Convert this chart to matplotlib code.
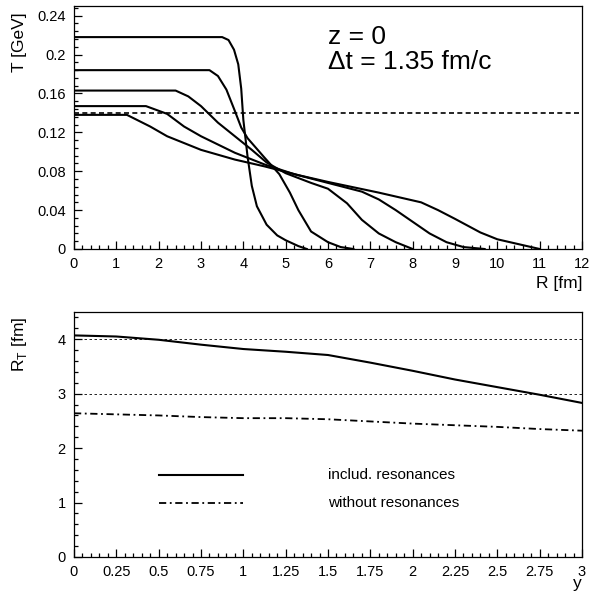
import matplotlib
matplotlib.use("Agg")
import matplotlib.pyplot as plt
from matplotlib.ticker import MultipleLocator, FixedLocator

plt.rcParams['font.family'] = ['Liberation Sans', 'DejaVu Sans']

# ---- top panel data: T(R) profiles ----
R_a = [0, 1, 2, 3, 3.5, 3.65, 3.78, 3.88, 3.95, 4.0, 4.1, 4.2, 4.32, 4.55, 4.8, 5.0, 5.3, 5.5]
T_a = [0.218, 0.218, 0.218, 0.218, 0.218, 0.215, 0.205, 0.190, 0.165, 0.133, 0.095, 0.065, 0.044, 0.025, 0.014, 0.009, 0.003, 0.0]

R_b = [0, 1, 2, 3, 3.2, 3.4, 3.6, 3.8, 3.95, 4.1, 4.5, 4.85, 5.1, 5.3, 5.6, 6.0, 6.3, 6.6]
T_b = [0.184, 0.184, 0.184, 0.184, 0.184, 0.178, 0.164, 0.142, 0.125, 0.114, 0.094, 0.077, 0.058, 0.040, 0.018, 0.007, 0.002, 0.0]

R_c = [0, 1, 2, 2.4, 2.7, 3.0, 3.4, 3.8, 4.2, 4.55, 5.0, 5.6, 6.0, 6.45, 6.8, 7.2, 7.6, 8.0]
T_c = [0.163, 0.163, 0.163, 0.163, 0.157, 0.147, 0.130, 0.116, 0.102, 0.089, 0.078, 0.068, 0.062, 0.047, 0.030, 0.016, 0.007, 0.0]

R_d = [0, 1, 1.7, 2.2, 2.6, 3.0, 3.8, 4.5, 5.2, 6.0, 6.8, 7.2, 7.6, 8.0, 8.4, 8.8, 9.2, 9.7]
T_d = [0.147, 0.147, 0.147, 0.139, 0.126, 0.116, 0.099, 0.087, 0.077, 0.068, 0.059, 0.051, 0.040, 0.028, 0.016, 0.007, 0.002, 0.0]

R_e = [0, 1, 1.25, 1.8, 2.2, 3.0, 3.8, 4.5, 5.3, 6.0, 7.2, 8.2, 8.6, 9.0, 9.6, 10.0, 10.6, 11.0]
T_e = [0.138, 0.138, 0.138, 0.126, 0.116, 0.102, 0.092, 0.085, 0.076, 0.069, 0.058, 0.048, 0.040, 0.031, 0.017, 0.010, 0.004, 0.0]

T_freeze = 0.14

# ---- bottom panel data: R_T(y) ----
y_vals = [0, 0.25, 0.5, 0.75, 1.0, 1.25, 1.5, 1.75, 2.0, 2.25, 2.5, 2.75, 3.0]
RT_incl = [4.07, 4.05, 3.99, 3.90, 3.82, 3.77, 3.71, 3.57, 3.42, 3.26, 3.12, 2.98, 2.83]
RT_without = [2.64, 2.62, 2.60, 2.57, 2.55, 2.55, 2.53, 2.49, 2.45, 2.42, 2.39, 2.35, 2.32]
ref_levels = [3, 4]

fig = plt.figure(figsize=(5.9, 6.02), dpi=100)
ax1 = fig.add_axes([74/590, 1-249/602, 508/590, 243/602])
ax2 = fig.add_axes([74/590, 1-557/602, 508/590, 245/602])

lw = 1.5
for R, T in [(R_a, T_a), (R_b, T_b), (R_c, T_c), (R_d, T_d), (R_e, T_e)]:
    ax1.plot(R, T, color='black', lw=lw, solid_joinstyle='round')
ax1.axhline(T_freeze, color='black', lw=1.2, ls=(0, (3, 2)))
ax1.set_xlim(0, 12)
ax1.set_ylim(0, 0.25)
ax1.xaxis.set_major_locator(MultipleLocator(1))
ax1.xaxis.set_minor_locator(MultipleLocator(0.2))
ax1.yaxis.set_major_locator(FixedLocator([0, 0.04, 0.08, 0.12, 0.16, 0.2, 0.24]))
ax1.yaxis.set_minor_locator(MultipleLocator(0.008))
ax1.set_yticklabels(['0', '0.04', '0.08', '0.12', '0.16', '0.2', '0.24'])
ax1.text(6.0, 0.218, 'z = 0', fontsize=19, va='center', ha='left')
ax1.text(6.0, 0.192, '\u0394t = 1.35 fm/c', fontsize=19, va='center', ha='left')
ax1.text(1.0, -0.14, 'R [fm]', transform=ax1.transAxes, ha='right', va='center', fontsize=12.5)
ax1.text(-0.108, 1.0 - 0.028, 'T [GeV]', transform=ax1.transAxes, rotation=90,
         ha='center', va='top', fontsize=12.5)

ax2.plot(y_vals, RT_incl, color='black', lw=lw)
ax2.plot(y_vals, RT_without, color='black', lw=1.3, ls=(0, (4, 2, 1, 2)))
for lv in ref_levels:
    ax2.axhline(lv, color='black', lw=0.6, ls=(0, (3, 3)))
ax2.set_xlim(0, 3)
ax2.set_ylim(0, 4.5)
ax2.xaxis.set_major_locator(MultipleLocator(0.25))
ax2.xaxis.set_minor_locator(MultipleLocator(0.05))
ax2.yaxis.set_major_locator(MultipleLocator(1))
ax2.yaxis.set_minor_locator(MultipleLocator(0.2))
ax2.set_xticks([0, 0.25, 0.5, 0.75, 1, 1.25, 1.5, 1.75, 2, 2.25, 2.5, 2.75, 3])
ax2.set_xticklabels(['0', '0.25', '0.5', '0.75', '1', '1.25', '1.5', '1.75', '2', '2.25', '2.5', '2.75', '3'])
ax2.plot([0.5, 1.0], [1.5, 1.5], color='black', lw=lw)
ax2.plot([0.5, 1.0], [1.0, 1.0], color='black', lw=1.3, ls=(0, (4, 2, 1, 2)))
ax2.text(1.5, 1.5, 'includ. resonances', fontsize=11, va='center', ha='left')
ax2.text(1.5, 1.0, 'without resonances', fontsize=11, va='center', ha='left')
ax2.text(1.0, -0.11, 'y', transform=ax2.transAxes, ha='right', va='center', fontsize=12.5)
ax2.text(-0.108, 1.0 - 0.02, 'R$_{\\mathregular{T}}$ [fm]', transform=ax2.transAxes, rotation=90,
         ha='center', va='top', fontsize=12.5)

for ax in (ax1, ax2):
    ax.tick_params(which='both', direction='in', top=False, right=False, labelsize=10.5, width=0.9)
    ax.tick_params(which='major', length=6, pad=6)
    ax.tick_params(which='minor', length=3)
    for s in ax.spines.values():
        s.set_linewidth(0.9)

fig.savefig('out.png', dpi=100)
